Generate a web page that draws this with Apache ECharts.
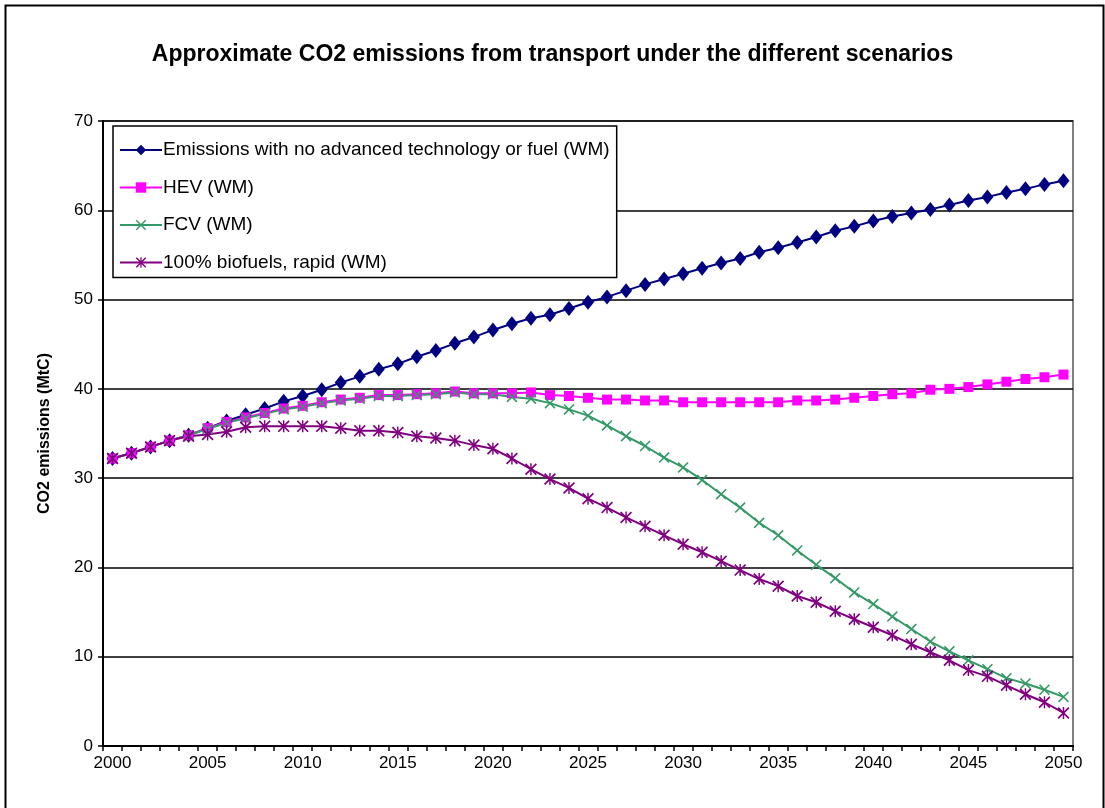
<!DOCTYPE html>
<html>
<head>
<meta charset="utf-8">
<script src="https://cdn.jsdelivr.net/npm/echarts@6/dist/echarts.min.js"></script>
<style>
  html, body { margin: 0; padding: 0; background: #fff; }
  #chart { width: 1105px; height: 808px; }
</style>
</head>
<body>
<div id="chart"></div>
<script>
// years 2000..2050
const years = [];
for (let y = 2000; y <= 2050; y++) years.push(String(y));

const seriesNames = [
  'Emissions with no advanced technology or fuel (WM)',
  'HEV (WM)',
  'FCV (WM)',
  '100% biofuels, rapid (WM)'
];

const baseline = [32.2, 32.8, 33.5, 34.2, 34.8, 35.6, 36.4, 37.1, 37.8, 38.6, 39.2, 39.9, 40.7, 41.4, 42.2, 42.8, 43.6, 44.3, 45.1, 45.8, 46.6, 47.3, 47.9, 48.3, 49.0, 49.7, 50.3, 51.0, 51.7, 52.3, 52.9, 53.5, 54.1, 54.6, 55.3, 55.8, 56.4, 57.0, 57.7, 58.2, 58.8, 59.3, 59.7, 60.1, 60.6, 61.1, 61.5, 62.0, 62.4, 62.9, 63.3];

const hev = [32.2, 32.8, 33.5, 34.2, 34.8, 35.6, 36.3, 36.8, 37.3, 37.8, 38.1, 38.5, 38.8, 39.0, 39.3, 39.3, 39.4, 39.5, 39.7, 39.5, 39.5, 39.5, 39.6, 39.3, 39.2, 39.0, 38.8, 38.8, 38.7, 38.7, 38.5, 38.5, 38.5, 38.5, 38.5, 38.5, 38.7, 38.7, 38.8, 39.0, 39.2, 39.4, 39.5, 39.9, 40.0, 40.2, 40.5, 40.8, 41.1, 41.3, 41.6];

const fcv = [32.2, 32.8, 33.5, 34.2, 34.8, 35.5, 36.2, 36.7, 37.2, 37.7, 38.0, 38.4, 38.7, 38.9, 39.2, 39.2, 39.3, 39.4, 39.6, 39.4, 39.4, 39.1, 38.9, 38.4, 37.7, 37.0, 35.9, 34.7, 33.6, 32.3, 31.2, 29.8, 28.2, 26.7, 25.0, 23.6, 21.9, 20.3, 18.8, 17.2, 15.9, 14.5, 13.1, 11.7, 10.6, 9.6, 8.6, 7.6, 7.0, 6.3, 5.5];

const biofuels = [32.2, 32.8, 33.5, 34.2, 34.7, 34.9, 35.2, 35.7, 35.8, 35.8, 35.8, 35.8, 35.6, 35.3, 35.3, 35.1, 34.7, 34.5, 34.2, 33.7, 33.3, 32.2, 31.0, 29.9, 28.9, 27.7, 26.7, 25.6, 24.6, 23.6, 22.6, 21.7, 20.7, 19.7, 18.7, 17.9, 16.8, 16.1, 15.1, 14.2, 13.3, 12.4, 11.4, 10.5, 9.6, 8.5, 7.8, 6.8, 5.8, 4.9, 3.7];

const colors = ['#000080', '#FF00FF', '#339966', '#800080'];

const xMark = 'path://M1,0 L10,9 L9,10 L0,1 Z M9,0 L10,1 L1,10 L0,9 Z';
const starMark = 'path://M1,0 L10,9 L9,10 L0,1 Z M9,0 L10,1 L1,10 L0,9 Z M4.4,0 L5.6,0 L5.6,10 L4.4,10 Z';

const font = 'Arial, "Liberation Sans", sans-serif';

function lineSeries(name, data, color, symbol, size) {
  return {
    name: name,
    type: 'line',
    data: data,
    symbol: symbol,
    symbolSize: size,
    showAllSymbol: true,
    lineStyle: { color: color, width: 2 },
    itemStyle: { color: color, borderColor: color, borderWidth: 0 },
    emphasis: { disabled: true },
    animation: false
  };
}

let myChart = echarts.init(document.getElementById('chart'));
let option = {
  backgroundColor: '#fff',
  textStyle: { fontFamily: font },
  title: {
    text: 'Approximate CO2 emissions from transport under the different scenarios',
    left: 'center',
    top: 38,
    textStyle: { fontSize: 23, fontWeight: 'bold', color: '#000', fontFamily: font }
  },
  graphic: [{
    type: 'rect',
    left: 3, top: 3,
    shape: { width: 1098, height: 830 },
    style: { fill: 'none', stroke: '#000', lineWidth: 2 },
    silent: true
  }],
  legend: {
    orient: 'vertical',
    left: 113,
    top: 126,
    itemWidth: 42,
    itemHeight: 13,
    itemGap: 17.5,
    padding: [14, 7, 5, 6],
    backgroundColor: '#fff',
    borderColor: '#000',
    borderWidth: 1.5,
    textStyle: { fontSize: 19, lineHeight: 20, color: '#000', fontFamily: font, padding: [0, 0, 0, -4] },
    data: seriesNames
  },
  grid: {
    left: 103, right: 32, top: 121, bottom: 62,
    show: true,
    borderColor: '#808080',
    borderWidth: 2,
    backgroundColor: '#fff'
  },
  xAxis: {
    type: 'category',
    data: years,
    boundaryGap: true,
    axisLine: { lineStyle: { color: '#000', width: 2 } },
    axisTick: { show: true, interval: 0, length: 5, lineStyle: { color: '#000', width: 1.5 } },
    axisLabel: { interval: 4, color: '#000', fontSize: 17, margin: 9, fontFamily: font },
    splitLine: { show: false }
  },
  yAxis: {
    type: 'value',
    min: 0, max: 70, interval: 10,
    name: 'CO2 emissions (MtC)',
    nameLocation: 'middle',
    nameGap: 50,
    nameTextStyle: { fontSize: 16, fontWeight: 'bold', color: '#000', fontFamily: font },
    axisLine: { show: true, lineStyle: { color: '#000', width: 2 } },
    axisTick: { show: true, length: 5, lineStyle: { color: '#000', width: 1.5 } },
    axisLabel: { color: '#000', fontSize: 17, margin: 10, fontFamily: font },
    splitLine: { show: true, lineStyle: { color: '#000', width: 1.5 } }
  },
  series: [
    lineSeries(seriesNames[0], baseline, colors[0], 'diamond', [12, 15]),
    lineSeries(seriesNames[1], hev, colors[1], 'rect', 10),
    lineSeries(seriesNames[2], fcv, colors[2], xMark, 11),
    lineSeries(seriesNames[3], biofuels, colors[3], starMark, 12)
  ]
};
myChart.setOption(option);
</script>
</body>
</html>
